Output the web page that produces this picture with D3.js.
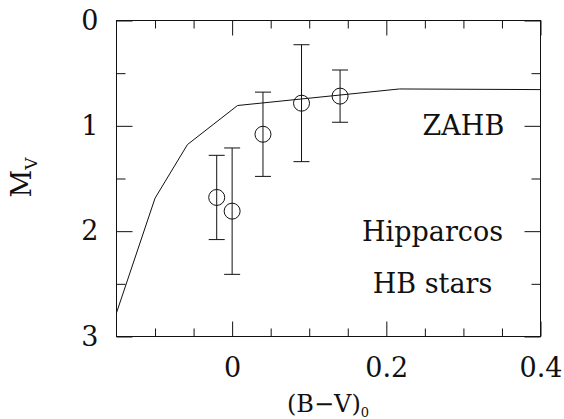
<!DOCTYPE html>
<head>
  <meta charset="utf-8">
  <script src="https://d3js.org/d3.v7.min.js"></script>
  <style>
    body { margin: 0; background: #fff; }
  </style>
</head>

<body>
  <script>
    // ZAHB model line
    var zahbColor = [-0.15, -0.10, -0.058, 0.007, 0.217, 0.40];
    var zahbMv = [2.775, 1.687, 1.178, 0.807, 0.650, 0.656];

    // Hipparcos HB stars (binned) with error bars
    var starColor = [-0.02, 0.00, 0.04, 0.09, 0.14];
    var starMv = [1.68, 1.81, 1.08, 0.785, 0.718];
    var starErr = [0.40, 0.60, 0.40, 0.555, 0.248];

    var xMajor = [0, 0.2, 0.4],
        xMinor = [-0.1, -0.05, 0.05, 0.1, 0.15, 0.25, 0.3, 0.35];
    var yMajor = [0, 1, 2, 3],
        yMinor = [0.5, 1.5, 2.5];

    var notes = ["ZAHB", "Hipparcos", "HB stars"];
    var noteX = [0.30, 0.26, 0.26],
        noteY = [1.088, 2.09, 2.586];

    var serif = "DejaVu Serif";
    var width = 564, height = 419;

    var svg = d3.select("body").append("svg")
        .attr("width", width)
        .attr("height", height);

    var x = d3.scaleLinear()
        .domain([-0.15, 0.4])
        .range([116.5, 540.5]);

    var y = d3.scaleLinear()
        .domain([0, 3])
        .range([20.5, 336.5]);

    var fmt = function(d) { return d === 0 ? "0" : d3.format(".1f")(d); };

    function styleAxis(g) {
      g.attr("font-family", serif).attr("font-size", 27);
      g.select(".domain").remove();
      g.selectAll("line").attr("stroke", "#111");
      g.selectAll("text").attr("fill", "#111");
    }

    // bottom + top
    svg.append("g")
        .attr("transform", "translate(0," + y(3) + ")")
        .call(d3.axisBottom(x).tickValues(xMajor).tickSize(-15).tickPadding(21).tickFormat(fmt))
        .call(styleAxis);
    svg.append("g")
        .attr("transform", "translate(0," + y(3) + ")")
        .call(d3.axisBottom(x).tickValues(xMinor).tickSize(-8).tickFormat(""))
        .call(styleAxis);
    svg.append("g")
        .attr("transform", "translate(0," + y(0) + ")")
        .call(d3.axisTop(x).tickValues(xMajor).tickSize(-15).tickFormat(""))
        .call(styleAxis);
    svg.append("g")
        .attr("transform", "translate(0," + y(0) + ")")
        .call(d3.axisTop(x).tickValues(xMinor).tickSize(-8).tickFormat(""))
        .call(styleAxis);

    // left + right
    svg.append("g")
        .attr("transform", "translate(" + x(-0.15) + ",0)")
        .call(d3.axisLeft(y).tickValues(yMajor).tickSize(-16).tickPadding(18).tickFormat(d3.format("d")))
        .call(styleAxis);
    svg.append("g")
        .attr("transform", "translate(" + x(-0.15) + ",0)")
        .call(d3.axisLeft(y).tickValues(yMinor).tickSize(-9).tickFormat(""))
        .call(styleAxis);
    svg.append("g")
        .attr("transform", "translate(" + x(0.4) + ",0)")
        .call(d3.axisRight(y).tickValues(yMajor).tickSize(-16).tickFormat(""))
        .call(styleAxis);
    svg.append("g")
        .attr("transform", "translate(" + x(0.4) + ",0)")
        .call(d3.axisRight(y).tickValues(yMinor).tickSize(-9).tickFormat(""))
        .call(styleAxis);

    // frame
    svg.append("rect")
        .attr("x", x(-0.15))
        .attr("y", y(0))
        .attr("width", x(0.4) - x(-0.15))
        .attr("height", y(3) - y(0))
        .attr("fill", "none")
        .attr("stroke", "#111");

    // ZAHB line
    var line = d3.line()
        .x(function(d) { return x(zahbColor[d]); })
        .y(function(d) { return y(zahbMv[d]); });

    svg.append("path")
        .datum(d3.range(zahbColor.length))
        .attr("fill", "none")
        .attr("stroke", "#111")
        .attr("d", line);

    // error bars + circles
    var pts = svg.append("g")
        .selectAll("g")
        .data(d3.range(starColor.length))
        .enter().append("g")
        .attr("stroke", "#111")
        .attr("fill", "none");

    pts.append("line")
        .attr("x1", function(i) { return x(starColor[i]); })
        .attr("x2", function(i) { return x(starColor[i]); })
        .attr("y1", function(i) { return y(starMv[i] - starErr[i]); })
        .attr("y2", function(i) { return y(starMv[i] + starErr[i]); });

    [-1, 1].forEach(function(s) {
      pts.append("line")
          .attr("x1", function(i) { return x(starColor[i]) - 8; })
          .attr("x2", function(i) { return x(starColor[i]) + 8; })
          .attr("y1", function(i) { return y(starMv[i] + s * starErr[i]); })
          .attr("y2", function(i) { return y(starMv[i] + s * starErr[i]); });
    });

    pts.append("circle")
        .attr("cx", function(i) { return x(starColor[i]); })
        .attr("cy", function(i) { return y(starMv[i]); })
        .attr("r", 8);

    // annotations
    svg.append("g")
        .selectAll("text")
        .data(notes)
        .enter().append("text")
        .attr("x", function(d, i) { return x(noteX[i]); })
        .attr("y", function(d, i) { return y(noteY[i]); })
        .attr("text-anchor", "middle")
        .attr("font-family", serif)
        .attr("font-size", 27)
        .attr("fill", "#111")
        .text(function(d) { return d; });

    // axis titles
    var xt = svg.append("text")
        .attr("x", 328)
        .attr("y", 412)
        .attr("text-anchor", "middle")
        .attr("font-family", serif)
        .attr("fill", "#111")
        .attr("font-size", 24);
    xt.append("tspan").text("(B\u2212V)");
    xt.append("tspan").attr("dy", 5).attr("font-size", 13).text("0");

    var yt = svg.append("text")
        .attr("transform", "translate(31,177.5)rotate(-90)")
        .attr("text-anchor", "middle")
        .attr("font-family", serif)
        .attr("fill", "#111")
        .attr("font-size", 27);
    yt.append("tspan").text("M");
    yt.append("tspan").attr("dy", 6).attr("font-size", 17).text("V");
  </script>
</body>
